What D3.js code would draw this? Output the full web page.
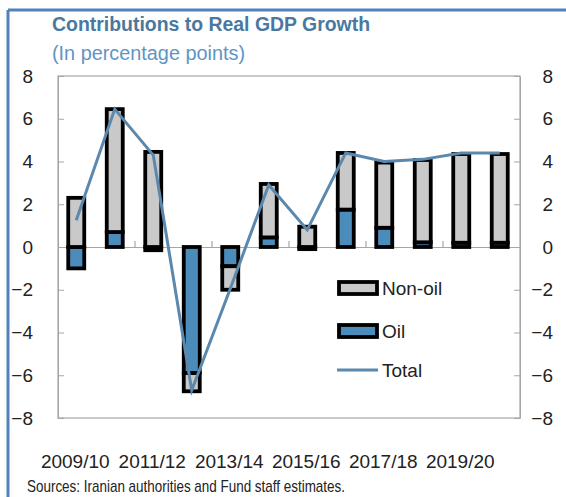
<!DOCTYPE html>
<html><head><meta charset="utf-8">
<script src="https://cdn.jsdelivr.net/npm/d3@7/dist/d3.min.js"></script>
<style>body{margin:0;background:#fff}svg{display:block}</style>
</head><body>
<svg id="c" width="566" height="497"></svg>
<script>
const categories = ["2009/10","2010/11","2011/12","2012/13","2013/14","2014/15","2015/16","2016/17","2017/18","2018/19","2019/20","2020/21"];
const nonOil = [2.3, 5.75, 4.45, -0.85, -1.1, 2.5, 0.95, 2.65, 3.05, 3.85, 4.15, 4.15];
const oil    = [-1.0, 0.7, -0.15, -5.9, -0.9, 0.45, -0.1, 1.75, 0.9, 0.22, 0.2, 0.2];
const total  = [1.25, 6.45, 4.3, -6.7, -1.95, 2.9, 0.8, 4.4, 4.0, 4.1, 4.4, 4.4];
const yTicks = [-8,-6,-4,-2,0,2,4,6,8];
const xLabelEvery = 2;

const colNon = "#c9c9c9", colOil = "#4b8cba", colLine = "#5b88ad";
const svg = d3.select("#c");
const L = 58, R = 520, T = 76, B = 418;

// outer frame
svg.append("line").attr("x1",8).attr("x2",566).attr("y1",10).attr("y2",10).attr("stroke","#4f81bd").attr("stroke-width",3);
svg.append("line").attr("x1",8).attr("x2",8).attr("y1",10).attr("y2",497).attr("stroke","#4f81bd").attr("stroke-width",3);

svg.append("text").attr("x",52).attr("y",31).attr("font-family","Liberation Sans, Arial, sans-serif").attr("font-weight","bold")
  .attr("font-size",20).attr("fill","#4a78a0").attr("textLength",318).attr("lengthAdjust","spacingAndGlyphs").text("Contributions to Real GDP Growth");
svg.append("text").attr("x",52).attr("y",60).attr("font-family","Liberation Sans, Arial, sans-serif")
  .attr("font-size",19.5).attr("fill","#5f95c4").attr("textLength",193).attr("lengthAdjust","spacingAndGlyphs").text("(In percentage points)");

const x = d3.scaleBand().domain(categories).range([L,R]).padding(0);
const y = d3.scaleLinear().domain([-8,8]).range([B,T]);

// plot frame
svg.append("rect").attr("x",L).attr("y",T).attr("width",R-L).attr("height",B-T).attr("fill","none").attr("stroke","#a6a6a6").attr("stroke-width",1.2);

const font = "Liberation Sans, Arial, sans-serif";
const yl = svg.append("g").attr("transform",`translate(${L},0)`)
  .call(d3.axisLeft(y).tickValues(yTicks).tickSizeInner(-6).tickSizeOuter(0).tickPadding(25).tickFormat(d3.format("d")));
const yr = svg.append("g").attr("transform",`translate(${R},0)`)
  .call(d3.axisRight(y).tickValues(yTicks).tickSizeInner(-6).tickSizeOuter(0).tickPadding(22).tickFormat(d3.format("d")));
[yl,yr].forEach(g=>{
  g.select(".domain").attr("stroke","#a6a6a6");
  g.selectAll(".tick line").attr("stroke","#a6a6a6");
  g.selectAll("text").attr("font-family",font).attr("font-size",19).attr("fill","#222");
});
yr.selectAll("text").attr("text-anchor","end").attr("x",33);

// zero line with ticks
const xa = svg.append("g").attr("transform",`translate(0,${y(0)})`)
  .call(d3.axisBottom(x).tickSizeInner(0).tickSizeOuter(0).tickFormat(""));
xa.select(".domain").attr("stroke","#a6a6a6").attr("stroke-width",1.2);
xa.selectAll(".tick").remove();
const bounds = categories.map((c,i)=>i).filter(i=>i>0 && i%xLabelEvery===0);
svg.selectAll(".xt").data(bounds).join("line")
  .attr("x1",i=>x(categories[i])).attr("x2",i=>x(categories[i]))
  .attr("y1",y(0)).attr("y2",y(0)-6).attr("stroke","#a6a6a6").attr("stroke-width",1.2);

// stacked bars
const rows = categories.map((c,i)=>({cat:c, oil:oil[i], nonoil:nonOil[i]}));
const stack = d3.stack().keys(["oil","nonoil"]).offset(d3.stackOffsetDiverging)(rows);
const bw = 16;
const colors = {oil:colOil, nonoil:colNon};
stack.forEach(s=>{
  svg.append("g").selectAll("rect").data(s).join("rect")
    .attr("x",d=>x(d.data.cat)+x.bandwidth()/2-bw/2-1)
    .attr("width",bw)
    .attr("y",d=>y(Math.max(d[0],d[1])))
    .attr("height",d=>Math.abs(y(d[0])-y(d[1])))
    .attr("fill",colors[s.key]).attr("stroke","#000").attr("stroke-width",3.8);
});

// total line
svg.append("path").datum(total)
  .attr("d",d3.line().x((d,i)=>x(categories[i])+x.bandwidth()/2-1).y(d=>y(d)))
  .attr("fill","none").attr("stroke",colLine).attr("stroke-width",3);

// x labels
svg.selectAll(".xl").data(categories.filter((c,i)=>i%xLabelEvery===0)).join("text")
  .attr("x",c=>x(c)+x.bandwidth()/2-2).attr("y",468).attr("text-anchor","middle")
  .attr("font-family",font).attr("font-size",19).attr("fill","#222").text(c=>c);

// legend
const lg = svg.append("g");
const items = [{k:"Non-oil",c:colNon,y:288},{k:"Oil",c:colOil,y:331}];
items.forEach(it=>{
  lg.append("rect").attr("x",339).attr("y",it.y-6).attr("width",38).attr("height",12).attr("fill",it.c).attr("stroke","#000").attr("stroke-width",3.8);
  lg.append("text").attr("x",382).attr("y",it.y+7).attr("font-family",font).attr("font-size",19).attr("fill","#222").text(it.k);
});
lg.append("line").attr("x1",337).attr("x2",378).attr("y1",370).attr("y2",370).attr("stroke",colLine).attr("stroke-width",3);
lg.append("text").attr("x",382).attr("y",377).attr("font-family",font).attr("font-size",19).attr("fill","#222").text("Total");

svg.append("text").attr("x",27).attr("y",492).attr("font-family",font).attr("font-size",17).attr("fill","#222")
  .attr("textLength",318).attr("lengthAdjust","spacingAndGlyphs").text("Sources: Iranian authorities and Fund staff estimates.");
</script>
</body></html>
